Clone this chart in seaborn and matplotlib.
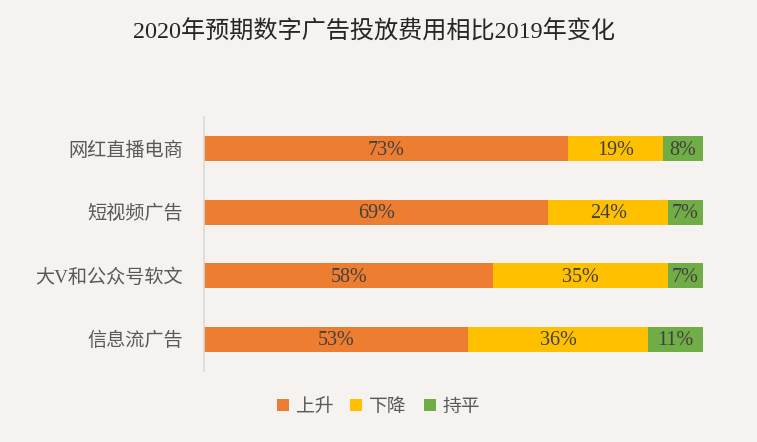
import matplotlib
matplotlib.use("Agg")
import matplotlib.pyplot as plt
import seaborn as sns
import pandas as pd
from matplotlib.patches import Patch

categories = ["网红直播电商", "短视频广告", "大V和公众号软文", "信息流广告"]
series_names = ["上升", "下降", "持平"]
rise = [73, 69, 58, 53]
fall = [19, 24, 35, 36]
flat = [8, 7, 7, 11]
colors = ["#ED7D31", "#FFC000", "#70AD47"]
title = "2020年预期数字广告投放费用相比2019年变化"

sns.set_theme(style="white")
fam = ["Liberation Serif", "Noto Sans CJK SC", "DejaVu Sans"]
plt.rcParams["font.family"] = fam

bg = "#F5F2EF"
fig = plt.figure(figsize=(7.57, 4.42), dpi=100, facecolor=bg)
ax = fig.add_axes([0.2695, 0.1606, 0.6592, 0.5747])
ax.set_facecolor(bg)

df = pd.DataFrame({"cat": categories, "rise": rise, "fall": fall, "flat": flat})
df["c1"] = df["rise"]
df["c2"] = df["rise"] + df["fall"]
df["c3"] = df["rise"] + df["fall"] + df["flat"]

for col, color in zip(["c3", "c2", "c1"], colors[::-1]):
    sns.barplot(data=df, x=col, y="cat", order=categories, color=color,
                width=0.4, saturation=1, ax=ax, edgecolor="none", linewidth=0)

for i, cat in enumerate(categories):
    starts = [0, rise[i], rise[i] + fall[i]]
    vals = [rise[i], fall[i], flat[i]]
    for s, v in zip(starts, vals):
        ax.text(s + v / 2, i + 0.02, f"{v}%", ha="center", va="center",
                fontsize=14.5, color="#404040", family=fam)

ax.set_xlim(0, 100)
ax.set_ylim(3.5, -0.5)
ax.set_xlabel("")
ax.set_ylabel("")
ax.set_xticks([])
ax.tick_params(axis="y", length=0, pad=15, labelsize=13.8, labelcolor="#595959")
for lab in ax.get_yticklabels():
    lab.set_family(fam)
for s in ["top", "right", "bottom"]:
    ax.spines[s].set_visible(False)
ax.spines["left"].set_color("#D9D9D9")
ax.spines["left"].set_linewidth(1.2)

fig.text(0.494, 0.928, title, ha="center", va="center", fontsize=17.4,
         color="#262626", family=fam)

handles = [Patch(facecolor=c, edgecolor="none") for c in colors]
leg = fig.legend(handles, series_names, loc="center", bbox_to_anchor=(0.5, 0.079),
                 ncol=3, frameon=False, handlelength=0.64,
                 handleheight=0.64, handletextpad=0.37, columnspacing=0.9,
                 prop={"family": fam, "size": 13.5})
for t in leg.get_texts():
    t.set_color("#595959")

fig.savefig("out.png", dpi=100, facecolor=bg)
